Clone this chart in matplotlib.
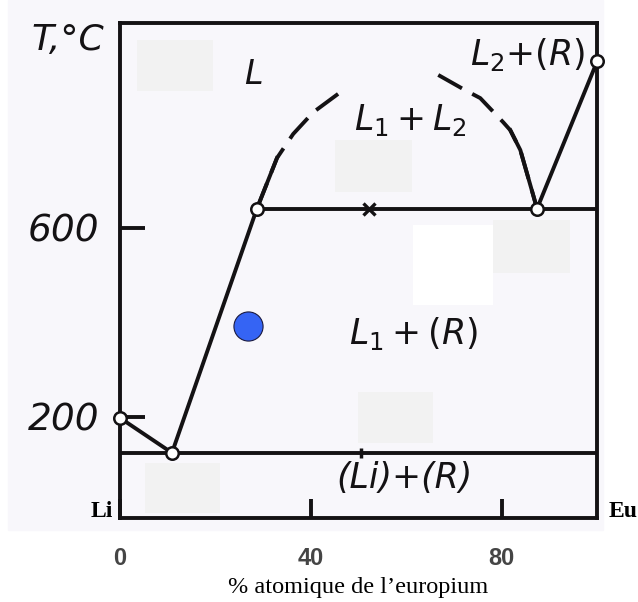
import matplotlib
matplotlib.use('Agg')
import matplotlib.pyplot as plt
from matplotlib.patches import Rectangle

# ---- Data (x = % at. Eu, T in degC) ------------------------------------
LI_MELT = (0.0, 198.0)
EU_MELT = (100.0, 953.0)
EUTECTIC = (10.9, 124.0)
MONO_LEFT = (28.7, 641.0)
MONO_RIGHT = (87.4, 641.0)
CROSS_UPPER = (52.2, 641.0)
CROSS_LOWER = (50.5, 124.0)
BLUE_POINT = (26.8, 393.0)

# miscibility gap (dashed dome), left and right branches
DOME_LEFT_X = [28.7, 32.9, 36.3, 40.5, 47.6]
DOME_LEFT_T = [641, 748, 799, 845, 898]
DOME_RIGHT_X = [66.7, 72.3, 75.5, 80.3, 81.8, 83.9, 87.4]
DOME_RIGHT_T = [924, 892, 875, 824, 807, 765, 641]

X_TICKS = [0, 40, 80]
Y_TICKS = [200, 600]

# masking boxes in the scan: (x0, x1, T0, T1, colour)
MASKS = [
    (3.6, 19.5, 890, 998, '#f2f2f2'),
    (45.1, 61.2, 676, 786, '#f2f2f2'),
    (61.4, 78.2, 437, 606, '#ffffff'),
    (78.2, 94.3, 505, 617, '#f2f2f2'),
    (49.9, 65.6, 145, 253, '#f2f2f2'),
    (5.2, 21.0, -3, 103, '#f2f2f2'),
]

INK = '#141214'
LW = 2.8
HAND = 'DejaVu Sans'
plt.rcParams['mathtext.fontset'] = 'dejavusans'

fig = plt.figure(figsize=(6.38, 6.02), dpi=100)
fig.patch.set_facecolor('white')
# tinted scanned area
scan = Rectangle((0.0125, 0.1196), 0.933, 0.8804, transform=fig.transFigure,
                 color='#f8f7fb', zorder=-5)
fig.patches.append(scan)
ax = fig.add_axes([0.188, 0.1395, 0.748, 0.8223])
ax.set_facecolor('#f8f7fb')
ax.set_xlim(0, 100)
ax.set_ylim(-14, 1034)

for s in ax.spines.values():
    s.set_linewidth(LW)
    s.set_color(INK)

for x0, x1, t0, t1, c in MASKS:
    ax.add_patch(Rectangle((x0, t0), x1 - x0, t1 - t0, color=c, zorder=1,
                           lw=0))

# liquidus / solidus lines
ax.plot([LI_MELT[0], EUTECTIC[0]], [LI_MELT[1], EUTECTIC[1]], color=INK, lw=LW, zorder=3)
ax.plot([EUTECTIC[0], MONO_LEFT[0]], [EUTECTIC[1], MONO_LEFT[1]], color=INK, lw=LW, zorder=3)
ax.plot([0, 100], [EUTECTIC[1], EUTECTIC[1]], color=INK, lw=LW, zorder=3)
ax.plot([MONO_LEFT[0], 100], [MONO_LEFT[1], MONO_LEFT[1]], color=INK, lw=LW, zorder=3)
ax.plot([MONO_RIGHT[0], EU_MELT[0]], [MONO_RIGHT[1], EU_MELT[1]], color=INK, lw=LW, zorder=3)

# dome: dashed with solid ends
ax.plot(DOME_LEFT_X, DOME_LEFT_T, color=INK, lw=LW, ls=(0, (7, 3)), zorder=3)
ax.plot(DOME_LEFT_X[:2], DOME_LEFT_T[:2], color=INK, lw=LW, zorder=3)
ax.plot(DOME_RIGHT_X, DOME_RIGHT_T, color=INK, lw=LW, ls=(0, (7, 3)), zorder=3)
ax.plot(DOME_RIGHT_X[-3:], DOME_RIGHT_T[-3:], color=INK, lw=LW, zorder=3)

# invariant points
pts = [LI_MELT, EUTECTIC, MONO_LEFT, MONO_RIGHT, EU_MELT]
ax.plot([p[0] for p in pts], [p[1] for p in pts], 'o', ms=9, mfc='white',
        mec=INK, mew=1.8, zorder=5, clip_on=False)
ax.plot(*CROSS_UPPER, marker='x', ms=8, mew=2.4, color=INK, zorder=4)
ax.plot(*CROSS_LOWER, marker='|', ms=7, mew=2.5, color=INK, zorder=4)

ax.scatter(*BLUE_POINT, s=440, color='#3564f4', edgecolors='#1a1a40',
           linewidths=0.8, zorder=6)

# ticks
ax.set_xticks(X_TICKS)
ax.set_xticklabels([str(v) for v in X_TICKS], fontfamily='Liberation Sans',
                   fontweight='bold', fontsize=17, color='#454545')
ax.tick_params(axis='x', direction='in', length=14, width=LW, color=INK,
               pad=21)
ax.set_yticks(Y_TICKS)
ax.set_yticklabels([str(v) for v in Y_TICKS], family=HAND, style='italic',
                   fontsize=27, color=INK)
ax.tick_params(axis='y', direction='in', length=18, width=LW, color=INK,
               pad=15)

ax.set_xlabel('% atomique de l\u2019europium', fontfamily='Liberation Serif',
              fontsize=17.5, labelpad=5)

# region labels
lab = dict(family=HAND, style='italic', color=INK, ha='center', va='center',
           zorder=7)
ax.text(-10.9, 998, 'T,°C', fontsize=26, clip_on=False, **lab)
ax.text(27.9, 926, 'L', fontsize=24, **lab)
ax.text(60.8, 828, r'$\mathit{L_1+L_2}$', fontsize=25, **lab)
ax.text(85.5, 968, r'$\mathit{L_2{+}(R)}$', fontsize=25, **lab)
ax.text(61.4, 376, r'$\mathit{L_1+(R)}$', fontsize=25, **lab)
ax.text(59.7, 71, '(Li)+(R)', fontsize=25, **lab)

ax.text(-1.5, 0, 'Li', fontfamily='Liberation Serif', fontweight='bold',
        fontsize=17, ha='right', va='center', clip_on=False)
ax.text(102.3, 0, 'Eu', fontfamily='Liberation Serif', fontweight='bold',
        fontsize=17, ha='left', va='center', clip_on=False)

fig.savefig('out.png', dpi=100, facecolor=fig.get_facecolor())
